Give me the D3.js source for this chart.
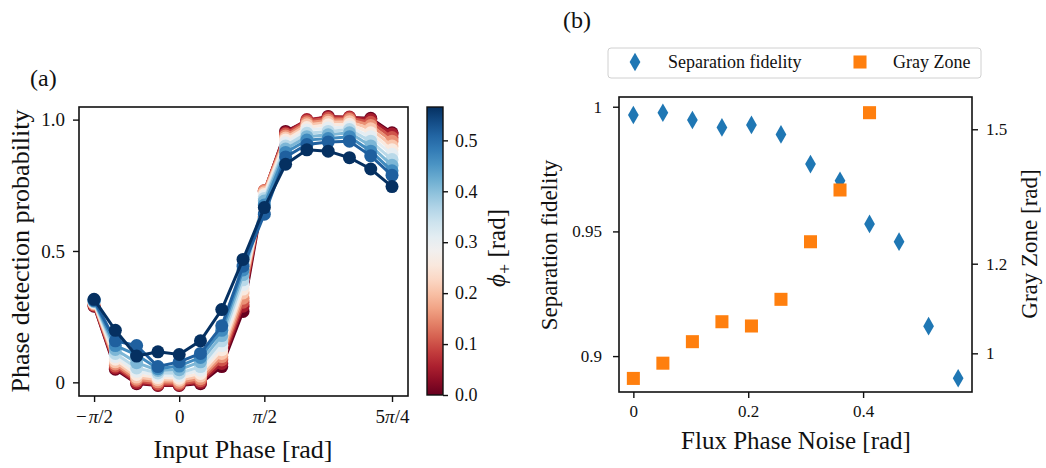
<!DOCTYPE html>
<meta charset="utf-8">
<style>
body { margin: 0; background: #fff; }
svg text { font-family: "Liberation Serif", "Times New Roman", serif; fill: #111; }
.frame { fill: none; stroke: #111; stroke-width: 1.6px; }
.tick line { stroke: #111; stroke-width: 1.4px; }
.domain { display: none; }
</style>
<body>
<svg id="chart" width="1046" height="468"></svg>
<script src="https://d3js.org/d3.v7.min.js"></script>
<script>

// panel (a): input phase in units of pi/8, one curve per phi_+ value
var phaseSteps = [-4, -3, -2, -1, 0, 1, 2, 3, 4, 5, 6, 7, 8, 9, 10];
var phiPlus = [0, 0.0514, 0.1028, 0.1542, 0.2056, 0.2570, 0.3084, 0.3598, 0.4112, 0.4626, 0.5140, 0.5655];
var detectionProb = [
  [0.290, 0.050, -0.005, -0.012, -0.012, -0.005, 0.060, 0.270, 0.725, 0.955, 0.995, 1.012, 1.008, 1.005, 0.950],
  [0.292, 0.055, -0.002, -0.010, -0.010, 0.000, 0.072, 0.290, 0.728, 0.950, 1.000, 1.010, 1.010, 1.000, 0.945],
  [0.295, 0.062, 0.005, -0.005, -0.006, 0.006, 0.085, 0.305, 0.730, 0.945, 0.995, 1.005, 1.006, 0.990, 0.932],
  [0.298, 0.070, 0.012, 0.002, 0.000, 0.014, 0.098, 0.320, 0.728, 0.938, 0.988, 0.998, 1.000, 0.978, 0.918],
  [0.300, 0.078, 0.020, 0.010, 0.008, 0.024, 0.110, 0.340, 0.722, 0.930, 0.980, 0.990, 0.992, 0.965, 0.900],
  [0.303, 0.088, 0.030, 0.018, 0.016, 0.034, 0.124, 0.355, 0.715, 0.922, 0.970, 0.980, 0.982, 0.950, 0.885],
  [0.305, 0.098, 0.042, 0.026, 0.025, 0.046, 0.140, 0.372, 0.708, 0.912, 0.960, 0.968, 0.972, 0.935, 0.868],
  [0.307, 0.110, 0.055, 0.036, 0.035, 0.060, 0.158, 0.390, 0.700, 0.900, 0.948, 0.955, 0.962, 0.918, 0.848],
  [0.309, 0.125, 0.075, 0.045, 0.048, 0.078, 0.178, 0.410, 0.690, 0.888, 0.935, 0.942, 0.950, 0.900, 0.826],
  [0.311, 0.140, 0.105, 0.052, 0.062, 0.095, 0.198, 0.428, 0.675, 0.875, 0.922, 0.928, 0.935, 0.880, 0.805],
  [0.313, 0.158, 0.140, 0.060, 0.078, 0.110, 0.215, 0.442, 0.640, 0.858, 0.905, 0.915, 0.918, 0.862, 0.788],
  [0.316, 0.198, 0.100, 0.116, 0.106, 0.158, 0.277, 0.468, 0.665, 0.830, 0.885, 0.880, 0.855, 0.812, 0.745]
];
var phaseTicks = [-4, 0, 4, 10];
var phaseTickLabels = [["\u2212", "\u03c0", "/2"], ["", "0", ""], ["", "\u03c0", "/2"], ["5", "\u03c0", "/4"]];
var probTicks = [0, 0.5, 1.0];
var probTickLabels = ["0", "0.5", "1.0"];
var cbarTicks = [0, 0.1, 0.2, 0.3, 0.4, 0.5];

// panel (b)
var fluxNoise = [0, 0.0514, 0.1028, 0.1542, 0.2056, 0.2570, 0.3084, 0.3598, 0.4112, 0.4626, 0.5140, 0.5655];
var sepFidelity = [0.9967, 0.9976, 0.9947, 0.9917, 0.9927, 0.9889, 0.9770, 0.9703, 0.9530, 0.9459, 0.9120, 0.8911];
var grayZone = [0.944, 0.978, 1.026, 1.0705, 1.061, 1.1205, 1.249, 1.3645, 1.537];
var noiseTicks = [0, 0.2, 0.4];
var fidTicks = [0.9, 0.95, 1];
var grayTicks = [1, 1.2, 1.5];

var svg = d3.select("#chart");
var blue = "#1f77b4", orange = "#ff7f0e";

// ---------- panel (a) ----------
var ax = {left: 79, right: 408, top: 107, bottom: 396};
var xA = d3.scaleLinear().domain([-1.849, 4.222]).range([ax.left, ax.right]);
var yA = d3.scaleLinear().domain([-0.052, 1.048]).range([ax.bottom, ax.top]);
var cmax = 0.5655;
var color = d3.scaleSequential(d3.interpolateRdBu).domain([0, cmax]);

svg.append("defs").append("clipPath").attr("id", "clipA")
   .append("rect").attr("x", ax.left).attr("y", ax.top)
   .attr("width", ax.right - ax.left).attr("height", ax.bottom - ax.top);

var line = d3.line()
  .x(function(d) { return xA(d.x); })
  .y(function(d) { return yA(d.y); });

var curves = svg.append("g").attr("clip-path", "url(#clipA)");
detectionProb.forEach(function(row, k) {
  var pts = row.map(function(v, i) { return {x: phaseSteps[i] * Math.PI / 8, y: v}; });
  var g = curves.append("g");
  g.append("path").attr("d", line(pts))
   .attr("fill", "none").attr("stroke", color(phiPlus[k])).attr("stroke-width", 3);
  g.selectAll("circle").data(pts).enter().append("circle")
   .attr("cx", function(d) { return xA(d.x); })
   .attr("cy", function(d) { return yA(d.y); })
   .attr("r", 6.5)
   .attr("fill", color(phiPlus[k]));
});

var xAxisA = svg.append("g").attr("transform", "translate(0," + ax.bottom + ")")
   .call(d3.axisBottom(xA).tickValues(phaseTicks.map(function(k) { return k * Math.PI / 8; }))
         .tickFormat("").tickSize(6));
xAxisA.selectAll(".tick").each(function(d, i) {
  var t = d3.select(this).append("text").attr("y", 27).attr("text-anchor", "middle")
     .style("font-size", "19px");
  var parts = phaseTickLabels[i];
  t.append("tspan").text(parts[0]);
  t.append("tspan").text(parts[1]).style("font-style", parts[1] == "\u03c0" ? "italic" : "normal")
   .attr("dx", parts[0] == "\u2212" ? 2 : null);
  t.append("tspan").text(parts[2]);
});
svg.append("g").attr("transform", "translate(" + ax.left + ",0)")
   .call(d3.axisLeft(yA).tickValues(probTicks)
         .tickFormat(function(d, i) { return probTickLabels[i]; }).tickSize(6).tickPadding(8))
   .selectAll("text").style("font-size", "19px");
svg.append("rect").attr("class", "frame")
   .attr("x", ax.left).attr("y", ax.top)
   .attr("width", ax.right - ax.left).attr("height", ax.bottom - ax.top);

svg.append("text").attr("x", 30).attr("y", 86).style("font-size", "24px").text("(a)");
svg.append("text").attr("transform", "translate(29,251) rotate(-90)")
   .attr("text-anchor", "middle").style("font-size", "26px").text("Phase detection probability");
svg.append("text").attr("x", 243).attr("y", 458)
   .attr("text-anchor", "middle").style("font-size", "26px").text("Input Phase [rad]");

// colorbar
var cb = {left: 427, right: 443, top: 107, bottom: 395};
var yC = d3.scaleLinear().domain([0, cmax]).range([cb.bottom, cb.top]);
var grad = svg.select("defs").append("linearGradient").attr("id", "cbGrad")
   .attr("x1", 0).attr("y1", 1).attr("x2", 0).attr("y2", 0);
grad.selectAll("stop").data(d3.range(0, 1.0001, 0.05)).enter().append("stop")
   .attr("offset", function(d) { return d; })
   .attr("stop-color", function(d) { return color(d * cmax); });
svg.append("rect").attr("x", cb.left).attr("y", cb.top)
   .attr("width", cb.right - cb.left).attr("height", cb.bottom - cb.top)
   .attr("fill", "url(#cbGrad)").attr("stroke", "#111").attr("stroke-width", 1.4);
svg.append("g").attr("transform", "translate(" + cb.right + ",0)")
   .call(d3.axisRight(yC).tickValues(cbarTicks).tickFormat(d3.format(".1f")).tickSize(5).tickPadding(7))
   .selectAll("text").style("font-size", "18px");
var cbl = svg.append("text").attr("transform", "translate(505,248) rotate(-90)")
   .attr("text-anchor", "middle").style("font-size", "25px");
cbl.append("tspan").style("font-style", "italic").text("\u03d5");
cbl.append("tspan").attr("dy", 6).style("font-size", "18px").text("+");
cbl.append("tspan").attr("dy", -6).text(" [rad]");

// ---------- panel (b) ----------
var bx = {left: 619, right: 972, top: 97, bottom: 392};
var xB = d3.scaleLinear().domain([-0.025, 0.5896]).range([bx.left, bx.right]);
var yF = d3.scaleLinear().domain([0.8856, 1.0039]).range([bx.bottom, bx.top]);
var yG = d3.scaleLinear().domain([0.9137, 1.572]).range([bx.bottom, bx.top]);

var diamond = d3.symbol().type(d3.symbolDiamond).size(100);
var square = d3.symbol().type(d3.symbolSquare).size(170);

svg.append("g").selectAll("path").data(sepFidelity).enter().append("path")
   .attr("d", diamond)
   .attr("transform", function(d, i) { return "translate(" + xB(fluxNoise[i]) + "," + yF(d) + ")"; })
   .attr("fill", blue);
svg.append("g").selectAll("path").data(grayZone).enter().append("path")
   .attr("d", square)
   .attr("transform", function(d, i) { return "translate(" + xB(fluxNoise[i]) + "," + yG(d) + ")"; })
   .attr("fill", orange);

svg.append("g").attr("transform", "translate(0," + bx.bottom + ")")
   .call(d3.axisBottom(xB).tickValues(noiseTicks).tickFormat(d3.format("")).tickSize(6).tickPadding(7))
   .selectAll("text").style("font-size", "17px");
svg.append("g").attr("transform", "translate(" + bx.left + ",0)")
   .call(d3.axisLeft(yF).tickValues(fidTicks).tickFormat(d3.format("")).tickSize(6).tickPadding(11))
   .selectAll("text").style("font-size", "17px");
svg.append("g").attr("transform", "translate(" + bx.right + ",0)")
   .call(d3.axisRight(yG).tickValues(grayTicks).tickFormat(d3.format("")).tickSize(6).tickPadding(8))
   .selectAll("text").style("font-size", "17px");
svg.append("rect").attr("class", "frame")
   .attr("x", bx.left).attr("y", bx.top)
   .attr("width", bx.right - bx.left).attr("height", bx.bottom - bx.top);

svg.append("text").attr("x", 563).attr("y", 28).style("font-size", "24px").text("(b)");
svg.append("text").attr("transform", "translate(557,245) rotate(-90)")
   .attr("text-anchor", "middle").style("font-size", "23px").text("Separation fidelity");
svg.append("text").attr("transform", "translate(1037,244) rotate(-90)")
   .attr("text-anchor", "middle").style("font-size", "23px").text("Gray Zone [rad]");
svg.append("text").attr("x", 796).attr("y", 449)
   .attr("text-anchor", "middle").style("font-size", "25px").text("Flux Phase Noise [rad]");

// legend
var leg = svg.append("g");
leg.append("rect").attr("x", 608).attr("y", 48).attr("width", 373).attr("height", 30)
   .attr("rx", 3).attr("fill", "#fff").attr("stroke", "#d0d0d0").attr("stroke-width", 1);
leg.append("path").attr("d", diamond).attr("transform", "translate(635,62)").attr("fill", blue);
leg.append("text").attr("x", 668).attr("y", 68).style("font-size", "18px").text("Separation fidelity");
leg.append("path").attr("d", square).attr("transform", "translate(860,62)").attr("fill", orange);
leg.append("text").attr("x", 893).attr("y", 68).style("font-size", "18px").text("Gray Zone");

</script>
</body>
